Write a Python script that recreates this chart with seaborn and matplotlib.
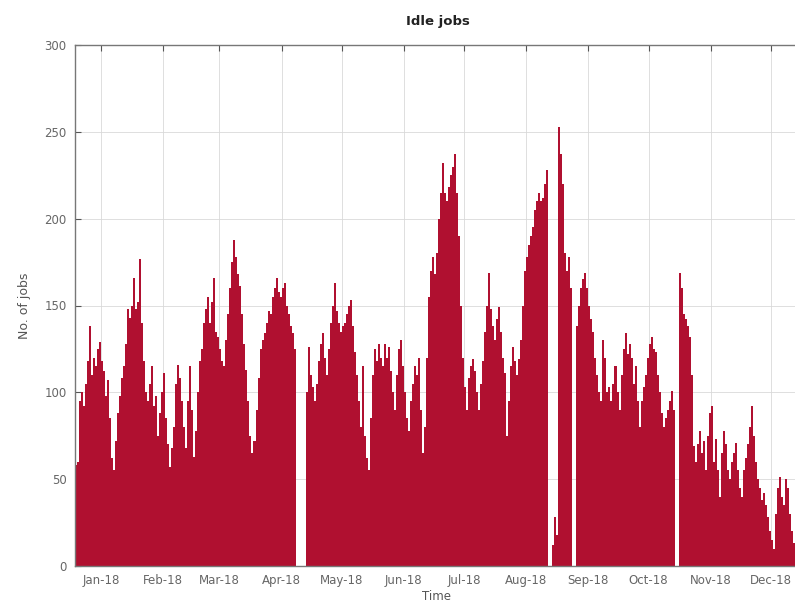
import numpy as np
import pandas as pd
import matplotlib
matplotlib.use("Agg")
import matplotlib.pyplot as plt
import matplotlib.dates as mdates
import seaborn as sns

# Daily idle-job counts, starting 2017-12-19
start_date = "2017-12-19"
idle_dec17 = [58, 60, 95, 100, 92, 105, 118, 138, 110, 120, 115, 125, 129]
idle_jan = [118, 112, 98, 107, 85, 62, 55, 72, 88, 98, 108, 115, 128, 148, 143, 150,
            166, 148, 152, 177, 140, 118, 100, 95, 105, 115, 92, 98, 75, 88, 100]
idle_feb = [111, 85, 70, 57, 68, 80, 105, 116, 108, 95, 80, 68, 95, 115, 90, 63,
            78, 100, 118, 125, 140, 148, 155, 140, 152, 166, 135, 132]
idle_mar = [125, 118, 115, 130, 145, 160, 175, 188, 178, 168, 161, 145, 128, 113, 95, 75,
            65, 72, 90, 108, 125, 130, 134, 140, 147, 145, 155, 160, 166, 158, 155]
idle_apr = [160, 163, 150, 145, 138, 134, 125, 0, 0, 0, 0, 0, 100, 126, 110, 103,
            95, 105, 118, 128, 134, 120, 110, 125, 140, 150, 163, 147, 140, 135]
idle_may = [138, 140, 145, 150, 153, 138, 123, 110, 95, 80, 115, 75, 62, 55, 85, 110,
            125, 118, 128, 120, 115, 128, 120, 126, 112, 100, 90, 110, 125, 130, 115]
idle_jun = [100, 85, 78, 95, 105, 115, 110, 120, 90, 65, 80, 120, 155, 170, 178, 168,
            180, 200, 215, 232, 215, 210, 218, 225, 230, 237, 215, 190, 150, 120]
idle_jul = [103, 90, 108, 115, 119, 112, 100, 90, 105, 118, 135, 150, 169, 148, 138, 130,
            142, 149, 135, 120, 111, 75, 95, 115, 126, 118, 110, 119, 130, 150, 170]
idle_aug = [178, 185, 190, 195, 205, 210, 215, 210, 212, 220, 228, 0, 0, 12, 28, 18,
            253, 237, 220, 180, 170, 178, 160, 0, 0, 138, 150, 160, 165, 169, 160]
idle_sep = [150, 142, 135, 120, 110, 100, 95, 130, 120, 100, 103, 95, 105, 115, 100, 90,
            110, 125, 134, 122, 128, 120, 105, 115, 95, 80, 95, 103, 110, 120]
idle_oct = [128, 132, 125, 123, 110, 100, 88, 80, 85, 90, 95, 101, 90, 0, 0, 169,
            160, 145, 142, 138, 132, 110, 69, 60, 70, 78, 65, 72, 55, 75, 88]
idle_nov = [92, 60, 73, 55, 40, 65, 78, 70, 55, 50, 60, 65, 71, 55, 45, 40,
            55, 62, 70, 80, 92, 75, 60, 50, 45, 38, 42, 35, 28, 20]
idle_dec = [15, 10, 30, 45, 51, 40, 35, 50, 45, 30, 20, 13, 35, 50]

idle_jobs = (idle_dec17 + idle_jan + idle_feb + idle_mar + idle_apr + idle_may + idle_jun
             + idle_jul + idle_aug + idle_sep + idle_oct + idle_nov + idle_dec)

dates = pd.date_range(start=start_date, periods=len(idle_jobs), freq="D")
df = pd.DataFrame({"time": mdates.date2num(dates), "jobs": idle_jobs})

sns.set_theme(style="white")
plt.rcParams["font.family"] = ["DejaVu Sans"]

fig = plt.figure(figsize=(7.95, 6.10), dpi=100)
ax = fig.add_axes([75 / 795, 44 / 610, 722 / 795, 521 / 610])

bar_color = "#b01030"
t0 = float(df["time"].iloc[0])
t1 = float(df["time"].iloc[-1]) + 1.0
sns.histplot(data=df, x="time", weights="jobs", binwidth=1.0, binrange=(t0, t1),
             color=bar_color, alpha=1.0, linewidth=0, ax=ax)

ax.set_xlim(mdates.date2num(pd.Timestamp("2017-12-19")),
            mdates.date2num(pd.Timestamp("2018-12-14")))
ax.set_ylim(0, 300)
ax.set_yticks([0, 50, 100, 150, 200, 250, 300])

ax.xaxis.set_major_locator(mdates.MonthLocator())
ax.xaxis.set_major_formatter(mdates.DateFormatter("%b-%y"))

ax.grid(True, color="#d9d9d9", linewidth=0.6)
for line in ax.get_xgridlines() + ax.get_ygridlines():
    line.set_zorder(0.5)

ax.tick_params(axis="both", which="both", direction="in", length=4, width=0.8,
               color="#555555", labelsize=8.5, labelcolor="#666666",
               top=True, bottom=True, left=True, right=False, pad=6)
for side in ["left", "top", "bottom"]:
    ax.spines[side].set_color("#777777")
    ax.spines[side].set_linewidth(1.0)
ax.spines["right"].set_visible(False)

ax.set_xlabel("Time", fontsize=8.5, color="#555555", labelpad=2)
ax.set_ylabel("No. of jobs", fontsize=9, color="#555555", labelpad=10)
fig.text(438 / 795, 1 - 22 / 610, "Idle jobs", ha="center", va="center",
         fontsize=9.5, fontweight="bold", color="#222222")

fig.savefig("out.png", dpi=100)
